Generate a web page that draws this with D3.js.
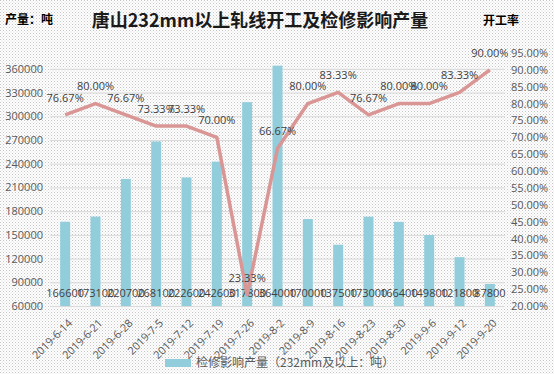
<!DOCTYPE html>
<html><head><meta charset="utf-8">
<script src="https://cdn.jsdelivr.net/npm/d3@7"></script>
<style>
html,body{margin:0;padding:0;background:#fff;}
svg{display:block;font-family:"Noto Sans CJK SC","Noto Sans",sans-serif;}
</style></head>
<body><svg id="c" width="554" height="374"></svg>
<script>
const categories = ["2019-6-14","2019-6-21","2019-6-28","2019-7-5","2019-7-12","2019-7-19","2019-7-26","2019-8-2","2019-8-9","2019-8-16","2019-8-23","2019-8-30","2019-9-6","2019-9-12","2019-9-20"];
const output = [166600,173100,220700,268100,222600,242600,317800,364000,170000,137500,173000,166400,149800,121800,87800];
const rate = [0.7667,0.80,0.7667,0.7333,0.7333,0.70,0.2333,0.6667,0.80,0.8333,0.7667,0.80,0.80,0.8333,0.90];
const leftTicks = [60000,90000,120000,150000,180000,210000,240000,270000,300000,330000,360000];
const rightTicks = [0.20,0.25,0.30,0.35,0.40,0.45,0.50,0.55,0.60,0.65,0.70,0.75,0.80,0.85,0.90,0.95];

const svg = d3.select("#c");
const defs = svg.append("defs");
const pat = defs.append("pattern").attr("id","dots").attr("width",3).attr("height",3).attr("patternUnits","userSpaceOnUse");
pat.append("rect").attr("width",3).attr("height",3).attr("fill","#ffffff");
pat.append("rect").attr("x",0).attr("y",0).attr("width",1).attr("height",1).attr("fill","#c4c4c4");
pat.append("rect").attr("x",1.5).attr("y",1.5).attr("width",1).attr("height",1).attr("fill","#d4d4d4");
svg.append("rect").attr("width",554).attr("height",374).attr("fill","url(#dots)");

const L = 50, R = 505, T = 53, B = 306;
const x = d3.scaleBand().domain(categories).range([L,R]);
const yL = d3.scaleLinear().domain([60000,380000]).range([B,T]);
const yR = d3.scaleLinear().domain([0.20,0.95]).range([B,T]);
const gray = "#595959";

// gridlines
svg.append("g").selectAll("line").data(leftTicks).join("line")
  .attr("x1",L).attr("x2",R).attr("y1",d=>yL(d)+0.5).attr("y2",d=>yL(d)+0.5)
  .attr("stroke","#d9d9d9").attr("stroke-width",1);

// left axis
const ax = d3.axisLeft(yL).tickValues(leftTicks).tickSize(0).tickPadding(0).tickFormat(d3.format("d"));
const gL = svg.append("g").attr("transform",`translate(43,0)`).call(ax);
gL.select(".domain").remove();
gL.selectAll("text").attr("fill",gray).style("font-size","11px").style("font-family","'Open Sans','Noto Sans',sans-serif");

// right axis
const axR = d3.axisRight(yR).tickValues(rightTicks).tickSize(0).tickPadding(0).tickFormat(d3.format(".2%"));
const gR = svg.append("g").attr("transform",`translate(511,0)`).call(axR);
gR.select(".domain").remove();
gR.selectAll("text").attr("fill",gray).style("font-size","11px").style("font-family","'Open Sans','Noto Sans',sans-serif");

// bottom axis labels
const gx = svg.append("g").attr("transform",`translate(0,${B})`);
gx.selectAll("text").data(categories).join("text")
  .attr("transform",d=>`translate(${x(d)+x.bandwidth()/2+5},${15}) rotate(-45)`)
  .attr("text-anchor","end").attr("dy","0.35em")
  .attr("fill",gray).style("font-size","11px").style("font-family","'Open Sans','Noto Sans',sans-serif")
  .text(d=>d);

// bars
const bw = 10;
svg.append("g").selectAll("rect").data(output).join("rect")
  .attr("x",(d,i)=>x(categories[i])+x.bandwidth()/2-bw/2)
  .attr("width",bw)
  .attr("y",d=>yL(d)).attr("height",d=>B-yL(d))
  .attr("fill","#92cddc");

// bar labels
svg.append("g").selectAll("text").data(output).join("text")
  .attr("x",(d,i)=>x(categories[i])+x.bandwidth()/2)
  .attr("y",293).attr("dy","0.35em").attr("text-anchor","middle")
  .attr("fill","#404040").style("font-size","11px").style("font-family","'Open Sans','Noto Sans',sans-serif")
  .text(d=>d);

// line
const line = d3.line().x((d,i)=>x(categories[i])+x.bandwidth()/2).y(d=>yR(d));
svg.append("path").datum(rate).attr("d",line).attr("fill","none")
  .attr("stroke","#d99694").attr("stroke-width",3.5).attr("stroke-linejoin","round");

svg.append("g").selectAll("text").data(rate).join("text")
  .attr("x",(d,i)=>x(categories[i])+x.bandwidth()/2)
  .attr("y",d=>yR(d)-17).attr("dy","0.35em").attr("text-anchor","middle")
  .attr("fill","#404040").style("font-size","11px").style("font-family","'Open Sans','Noto Sans',sans-serif")
  .text(d=>d3.format(".2%")(d));

// titles
svg.append("text").attr("x",260).attr("y",21).attr("text-anchor","middle").attr("dy","0.35em")
  .style("font-size","18px").style("font-weight","bold").attr("fill","#1a1a1a")
  .text("唐山232mm以上轧线开工及检修影响产量");
svg.append("text").attr("x",5).attr("y",20).attr("dy","0.35em")
  .style("font-size","12px").style("font-weight","bold").attr("fill","#000")
  .text("产量：吨");
svg.append("text").attr("x",483).attr("y",21).attr("dy","0.35em")
  .style("font-size","12px").style("font-weight","bold").attr("fill","#000")
  .text("开工率");

// legend
svg.append("rect").attr("x",165).attr("y",359).attr("width",26).attr("height",8).attr("fill","#92cddc");
svg.append("text").attr("x",196).attr("y",363).attr("dy","0.35em")
  .style("font-size","12px").attr("fill",gray)
  .text("检修影响产量（232mm及以上：吨）");
</script></body></html>
